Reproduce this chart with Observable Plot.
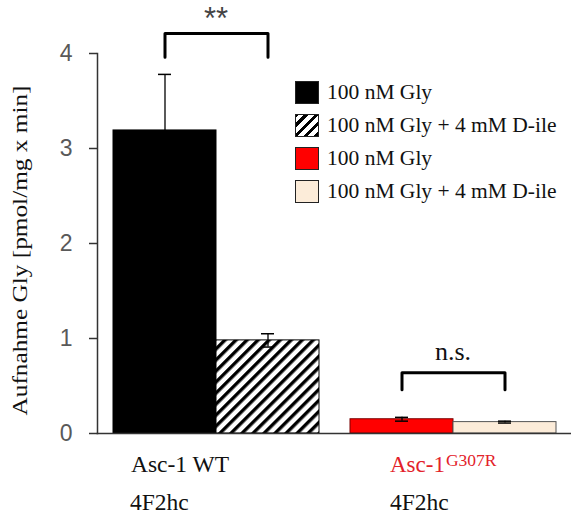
<!DOCTYPE html>
<html><head><meta charset="utf-8">
<script src="https://cdn.jsdelivr.net/npm/d3@7"></script>
<script src="https://cdn.jsdelivr.net/npm/@observablehq/plot@0.6"></script>
<style>
body{margin:0;background:#fff;}
#wrap{position:relative;width:571px;height:513px;overflow:hidden;}
#legend{position:absolute;left:295px;top:76px;font-family:"Liberation Serif","Times New Roman",serif;font-size:21.5px;color:#111;}
.row{display:flex;align-items:center;height:33px;white-space:nowrap;}
.sw{width:22px;height:21px;border:1px solid #222;margin-right:8px;}
</style></head><body><div id="wrap"><div id="legend"></div></div>
<script>
// ---- data ----
const groups = ["WT", "G307R"];
const labelMain = ["Asc-1 WT", "Asc-1"];
const labelSup = ["", "G307R"];
const labelSub = ["4F2hc", "4F2hc"];
const conditions = ["Gly", "Gly + D-ile"];
const legendLabels = ["100 nM Gly", "100 nM Gly + 4 mM D-ile", "100 nM Gly", "100 nM Gly + 4 mM D-ile"];
const uptakeWT = [3.19, 0.98];
const uptakeG307R = [0.15, 0.12];
const sdWT = [0.59, 0.07];
const sdG307R = [0.02, 0.01];
const sigLabels = ["**", "n.s."];
const bracketTop = [4.21, 0.64];
const bracketLeg = [3.96, 0.46];
const sigLabelY = [4.36, 0.77];
const yTicks = [0, 1, 2, 3, 4];
const yLabel = "Aufnahme Gly [pmol/mg x min]";

// ---- styles ----
const fills = ["#000000", "url(#hatch)", "#ff0000", "#fcecd9"];
const strokes = ["#000000", "#000000", "#7a0000", "#555555"];
const swatchCss = ["#000", "repeating-linear-gradient(-45deg,#000 0 3.2px,#fff 3.2px 7.2px)", "#ff0000", "#fcecd9"];
const serif = "'Liberation Serif','Times New Roman',serif";

const uptake = [uptakeWT, uptakeG307R];
const sds = [sdWT, sdG307R];
const bars = groups.flatMap((g, i) => conditions.map((c, j) => ({group: g, cond: c, key: i * 2 + j, value: uptake[i][j], sd: sds[i][j]})));
const labels = groups.map((g, i) => ({group: g, main: labelMain[i], sup: labelSup[i], sub: labelSub[i]}));
const brackets = groups.flatMap((g, i) => [
  {group: g, cond: conditions[0], y: bracketLeg[i]},
  {group: g, cond: conditions[0], y: bracketTop[i]},
  {group: g, cond: conditions[1], y: bracketTop[i]},
  {group: g, cond: conditions[1], y: bracketLeg[i]}
]);
const sig = groups.map((g, i) => ({group: g, text: sigLabels[i], y: sigLabelY[i]}));

const ctx = document.createElement("canvas").getContext("2d");
ctx.font = "23px 'Liberation Serif'";
const mainW = ctx.measureText(labelMain[1]).width;

const chart = Plot.plot({
  width: 571, height: 513,
  marginLeft: 97, marginRight: 0, marginTop: 53, marginBottom: 80,
  style: {fontFamily: serif, background: "#fff", overflow: "visible"},
  fx: {domain: groups, paddingInner: 0, paddingOuter: 0, axis: null},
  x: {domain: conditions, paddingInner: 0, paddingOuter: 0.145, axis: null},
  y: {domain: [0, 4], axis: null},
  color: {type: "identity"},
  marks: [
    Plot.barY(bars, {fx: "group", x: "cond", y: "value", fill: d => fills[d.key], stroke: d => strokes[d.key], strokeWidth: 1}),
    Plot.ruleX(bars, {fx: "group", x: "cond", y1: d => d.value - d.sd, y2: d => d.value + d.sd, stroke: "#000", strokeWidth: 1.3}),
    Plot.tickY(bars, {fx: "group", x: "cond", y: d => d.value + d.sd, insetLeft: 45, insetRight: 45, stroke: "#000", strokeWidth: 1.5}),
    Plot.tickY(bars, {fx: "group", x: "cond", y: d => d.value - d.sd, insetLeft: 45, insetRight: 45, stroke: "#000", strokeWidth: 1.5}),
    Plot.line(brackets, {fx: "group", x: "cond", y: "y", z: "group", stroke: "#000", strokeWidth: 3}),
    Plot.text(sig.slice(0, 1), {fx: "group", y: "y", text: "text", fontSize: 31, fill: "#444", fontFamily: "'Liberation Sans',sans-serif", lineAnchor: "middle"}),
    Plot.text(sig.slice(1), {fx: "group", y: "y", text: "text", fontSize: 26, fill: "#111", lineAnchor: "bottom"}),
    Plot.frame({anchor: "bottom", facet: "super", stroke: "#333", strokeWidth: 1.5}),
    Plot.frame({anchor: "left", facet: "super", stroke: "#333", strokeWidth: 1.5}),
    Plot.axisY({ticks: yTicks, tickSize: 8, tickPadding: 17, fontSize: 23, fontFamily: "'Liberation Sans',Arial,sans-serif", fill: "#595959", stroke: "#333", strokeWidth: 1.5, label: null, tickFormat: d => String(d)}),
    Plot.text([yLabel], {facet: "super", frameAnchor: "left", textAnchor: "middle", rotate: -90, dx: -78, dy: 7, fontSize: 22, fill: "#111", text: d => d}),
    Plot.text(labels.slice(0, 1), {fx: "group", x: () => conditions[0], text: "main", frameAnchor: "bottom", textAnchor: "start", lineAnchor: "bottom", dx: -34, dy: 38, fontSize: 23.5, fill: "#111"}),
    Plot.text(labels.slice(1), {fx: "group", x: () => conditions[0], text: "main", frameAnchor: "bottom", textAnchor: "start", lineAnchor: "bottom", dx: -12, dy: 38, fontSize: 23, fill: "#e3222a"}),
    Plot.text(labels.slice(1), {fx: "group", x: () => conditions[0], text: "sup", frameAnchor: "bottom", textAnchor: "start", lineAnchor: "bottom", dx: -12 + mainW + 1, dy: 32, fontSize: 17.5, fill: "#e3222a"}),
    Plot.text(labels.slice(0, 1), {fx: "group", x: () => conditions[0], text: "sub", frameAnchor: "bottom", textAnchor: "start", lineAnchor: "bottom", dx: -35, dy: 76, fontSize: 23.5, fill: "#111"}),
    Plot.text(labels.slice(1), {fx: "group", x: () => conditions[0], text: "sub", frameAnchor: "bottom", textAnchor: "start", lineAnchor: "bottom", dx: -12, dy: 76, fontSize: 23.5, fill: "#111"})
  ]
});

d3.select(chart).insert("defs", ":first-child").html(
  '<pattern id="hatch" patternUnits="userSpaceOnUse" width="7.8" height="7.8" patternTransform="rotate(45)">' +
  '<rect width="7.8" height="7.8" fill="#fff"/><rect width="3.4" height="7.8" fill="#000"/></pattern>');

d3.select(chart).selectAll("text").filter(function() { return this.textContent === yLabel; })
  .attr("textLength", 330).attr("lengthAdjust", "spacingAndGlyphs");

const wrap = document.getElementById("wrap");
wrap.insertBefore(chart, wrap.firstChild);

const legend = d3.select("#legend");
legendLabels.forEach((t, i) => {
  const row = legend.append("div").attr("class", "row");
  row.append("div").attr("class", "sw").style("background", swatchCss[i]);
  row.append("span").text(t);
});
</script></body></html>
